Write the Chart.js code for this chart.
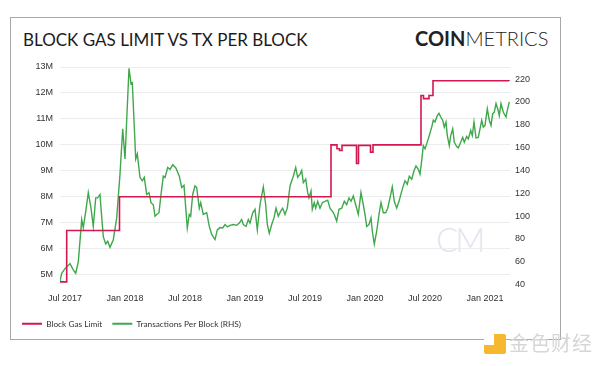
<!DOCTYPE html>
<html>
<head>
<meta charset="utf-8">
<script src="https://cdn.jsdelivr.net/npm/chart.js@4.4.0/dist/chart.umd.min.js"></script>
<style>
  body { margin: 0; width: 600px; height: 366px; position: relative; background: #fff; overflow: hidden; font-family: Lato, sans-serif; }
  .card { position: absolute; left: 10px; top: 17px; width: 549px; height: 321px; border: 1px solid #a8a8a8; }
  .title { position: absolute; left: 23px; top: 31px; font-size: 17px; line-height: 17px; color: #1c1c1c; white-space: nowrap; }
  .logo { position: absolute; left: 415px; top: 28px; font-size: 20px; line-height: 20px; color: #222; white-space: nowrap; }
  .logo b { font-weight: 700; }
  .logo span { font-weight: 300; }
  .cm { position: absolute; left: 436px; top: 223px; font-size: 33px; line-height: 33px; color: #e2e5ef; font-weight: 300; letter-spacing: -3px; }
  canvas { position: absolute; left: 0; top: 0; }
  .wm-icon { position: absolute; left: 484px; top: 334px; width: 22px; height: 20px; background: #f5b82e; border-radius: 2px; }
  .wm-icon i { position: absolute; left: 0; top: 0; width: 10px; height: 11px; background: #fff; }
  .wm-text { position: absolute; left: 509px; top: 332px; font-family: "Noto Sans CJK SC"; font-size: 20px; line-height: 22px; color: #d6d6d6; letter-spacing: 1px; }
</style>
</head>
<body>
<div class="card"></div>
<div class="title">BLOCK GAS LIMIT VS TX PER BLOCK</div>
<div class="logo"><b>COIN</b><span>METRICS</span></div>
<div class="cm">CM</div>
<canvas id="chart" width="600" height="366"></canvas>
<div class="wm-icon"><i></i></div>
<div class="wm-text">金色财经</div>
<script>
// months counted from Jul 2017 (0 = 1 Jul 2017)
const xTickMonths = [0, 6, 12, 18, 24, 30, 36, 42];
const xTickLabels = ['Jul 2017', 'Jan 2018', 'Jul 2018', 'Jan 2019', 'Jul 2019', 'Jan 2020', 'Jul 2020', 'Jan 2021'];
const gasTicks = [5e6, 6e6, 7e6, 8e6, 9e6, 10e6, 11e6, 12e6, 13e6];
const txTicks = [40, 60, 80, 100, 120, 140, 160, 180, 200, 220];

// block gas limit, each value holds from its month until the next one
const gasMonths = [-0.5, 0.17, 5.45, 26.6, 27.2, 27.45, 27.7, 29.15, 29.35, 30.55, 30.8, 35.6, 35.85, 36.4, 36.8, 44.4];
const gasLimit = [4720000, 6700000, 8000000, 10000000, 9850000, 9780000, 9980000, 9280000, 9980000, 9720000, 10000000, 11900000, 11780000, 11900000, 12470000, 12460000];

// transactions per block (RHS)
const txMonths = [
  -0.5, -0.33, 0, 0.5, 0.83, 1.07, 1.33, 1.67, 1.83, 2.07, 2.33, 2.6, 2.83, 3.07, 3.27, 3.5, 3.6, 3.83, 4.07, 4.27,
  4.5, 4.83, 5.17, 5.5, 5.77, 6.0, 6.17, 6.4, 6.6, 6.73, 6.93, 7.07, 7.23, 7.5, 7.73, 7.93, 8.17, 8.4, 8.6, 8.83,
  9.0, 9.17, 9.4, 9.6, 9.83, 10.0, 10.27, 10.5, 10.77, 11.1, 11.43, 11.67, 11.9, 12.1, 12.23, 12.43, 12.57, 12.77, 13.0, 13.17,
  13.43, 13.57, 13.83, 14.17, 14.43, 14.67, 15.0, 15.23, 15.5, 15.77, 16.0, 16.23, 16.5, 16.83, 17.17, 17.43, 17.67, 17.83, 18.1, 18.33,
  18.5, 18.77, 19.0, 19.23, 19.5, 19.83, 20.07, 20.23, 20.43, 20.67, 20.9, 21.1, 21.33, 21.57, 21.77, 22.0, 22.23, 22.5, 22.83, 23.07,
  23.27, 23.5, 23.67, 23.83, 24.07, 24.27, 24.4, 24.6, 24.73, 24.93, 25.07, 25.27, 25.5, 25.73, 26.0, 26.27, 26.5, 26.73, 26.93, 27.17,
  27.4, 27.67, 27.93, 28.17, 28.4, 28.6, 28.83, 29.07, 29.33, 29.6, 29.83, 30.0, 30.17, 30.4, 30.6, 30.73, 30.93, 31.17, 31.4, 31.6,
  31.83, 32.07, 32.27, 32.5, 32.73, 32.93, 33.17, 33.4, 33.77, 34.0, 34.23, 34.43, 34.67, 34.9, 35.1, 35.33, 35.5, 35.67, 35.83, 36.0,
  36.17, 36.43, 36.67, 36.83, 37.0, 37.23, 37.4, 37.57, 37.77, 37.93, 38.1, 38.23, 38.43, 38.57, 38.77, 38.93, 39.17, 39.33, 39.57, 39.77,
  39.93, 40.17, 40.33, 40.57, 40.73, 40.9, 41.1, 41.33, 41.5, 41.67, 41.83, 42.0, 42.23, 42.43, 42.6, 42.77, 42.93, 43.1, 43.27, 43.43,
  43.6, 43.83, 44.1, 44.23, 44.43
];
const txPerBlock = [
  43, 50, 54, 58.5, 53, 50, 60, 97, 90, 104, 120.6, 107, 91, 116, 116, 119, 107, 82, 75.6, 78,
  72.7, 79.4, 98.5, 136.8, 176.5, 150, 184, 229.5, 216, 216.8, 178, 150, 154.5, 133.8, 131, 134, 119, 120.6, 111.8, 110,
  100, 101.5, 103, 119, 135, 133.8, 142.6, 141, 145, 142, 135, 125, 127, 104.4, 89.7, 101.5, 100, 119, 126.5, 125,
  107, 111.8, 101.5, 103, 91, 84, 79.5, 88, 90, 89.7, 92.7, 90.6, 92, 92.7, 92, 94, 97, 92.7, 91, 97,
  94, 103, 106, 88, 110, 125.6, 110, 92.7, 85, 92.7, 98.5, 107, 100, 104.4, 107, 101.5, 107, 126.5, 135, 142.6,
  134, 136.8, 140, 129.4, 132.4, 120.6, 116, 122, 106, 111.8, 107, 113, 107, 111.8, 113, 114, 107, 104.4, 101.5, 95.6,
  106, 107, 113, 110, 116, 113, 117.7, 110, 101.5, 120.6, 110, 101.5, 91, 92.7, 98.5, 86.8, 75.6, 86.8, 101.5, 111.8,
  103, 103, 107, 116, 125.6, 113, 107, 113, 125, 131, 128, 135, 132.4, 139.7, 144, 141, 136.8, 148.6, 161.8, 159,
  163.3, 170.6, 178, 184, 182.4, 188, 190, 186.8, 184, 178, 182.4, 170.6, 161.8, 170.6, 176.5, 164.7, 161, 159.8, 164.7, 169,
  164.7, 169.7, 167.7, 175, 170.6, 182.4, 168.6, 169, 176.5, 184, 178, 179.5, 194, 184, 179.5, 189.8, 191, 198.6, 194, 188,
  198.6, 191, 186.8, 192.7, 200
];

const red = '#d3174f';
const green = '#3fa84a';
const tickFont = { family: 'Liberation Sans, Arial, sans-serif', size: 9 };

const gasData = gasMonths.map((m, i) => ({ x: m, y: gasLimit[i] }));
const txData = txMonths.map((m, i) => ({ x: m, y: txPerBlock[i] }));

new Chart(document.getElementById('chart'), {
  type: 'line',
  data: {
    datasets: [
      {
        label: 'Block Gas Limit',
        data: gasData,
        yAxisID: 'yGas',
        borderColor: red,
        backgroundColor: red,
        borderWidth: 1.6,
        stepped: true,
        pointRadius: 0,
        fill: false
      },
      {
        label: 'Transactions Per Block (RHS)',
        data: txData,
        yAxisID: 'yTx',
        borderColor: green,
        backgroundColor: green,
        borderWidth: 1.4,
        tension: 0,
        pointRadius: 0,
        fill: false
      }
    ]
  },
  options: {
    responsive: false,
    animation: false,
    devicePixelRatio: 1,
    layout: { padding: { left: 12, right: 40, top: 67, bottom: 28 } },
    plugins: {
      tooltip: { enabled: false },
      legend: {
        position: 'bottom',
        align: 'start',
        labels: {
          boxWidth: 20,
          boxHeight: 2,
          padding: 10,
          color: '#333',
          font: { family: 'Lato, sans-serif', size: 8.3 },
          generateLabels: chart => {
            const items = Chart.defaults.plugins.legend.labels.generateLabels(chart);
            items.forEach(it => { it.lineWidth = 0; });
            return items;
          }
        }
      }
    },
    scales: {
      x: {
        type: 'linear',
        min: -0.5,
        max: 44.5,
        afterFit: s => { s.height = 25; },
        afterBuildTicks: s => { s.ticks = xTickMonths.map(v => ({ value: v })); },
        ticks: {
          padding: 8,
          color: '#333',
          font: tickFont,
          maxRotation: 0,
          callback: v => xTickLabels[xTickMonths.indexOf(v)]
        },
        grid: { display: false, drawTicks: false },
        border: { display: false }
      },
      yGas: {
        position: 'left',
        min: 4610000,
        max: 13000000,
        afterFit: s => { s.width = 48; },
        afterBuildTicks: s => { s.ticks = gasTicks.map(v => ({ value: v })); },
        ticks: {
          padding: 7,
          color: '#333',
          font: tickFont,
          callback: v => (v / 1e6) + 'M'
        },
        grid: { color: '#ececec', lineWidth: 1, drawTicks: false },
        border: { display: false }
      },
      yTx: {
        position: 'right',
        min: 40,
        max: 230.6,
        afterFit: s => { s.width = 50; },
        afterBuildTicks: s => { s.ticks = txTicks.map(v => ({ value: v })); },
        ticks: {
          padding: 5,
          color: '#333',
          font: tickFont
        },
        grid: { display: false, drawTicks: false },
        border: { display: false }
      }
    }
  }
});
</script>
</body>
</html>
